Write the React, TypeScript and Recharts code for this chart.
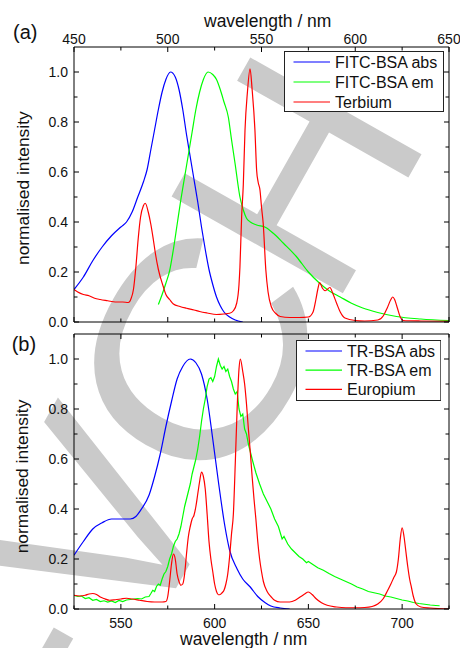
import React from 'react'
import { LineChart, Line, XAxis, YAxis, Legend } from 'recharts'

const FONT = "'Liberation Sans', Arial, Helvetica, sans-serif"

// ---- panel (a): FITC-BSA / terbium ----
const fitcAbsNm = [450, 455, 460, 465, 470, 475, 478, 481, 484, 487, 489, 491, 493, 495, 497, 499, 501.5, 504, 506, 508, 510, 512, 514, 516, 518, 520, 522, 524, 526, 528, 530, 533, 536, 540]
const fitcAbsVal = [0.13, 0.18, 0.245, 0.3, 0.345, 0.38, 0.4, 0.44, 0.5, 0.56, 0.61, 0.69, 0.77, 0.85, 0.92, 0.97, 1.0, 0.98, 0.93, 0.85, 0.75, 0.66, 0.57, 0.48, 0.38, 0.29, 0.21, 0.15, 0.1, 0.065, 0.04, 0.02, 0.008, 0.0]

const fitcEmNm = [495, 497, 499, 501, 503, 505, 507, 509, 511, 513, 515, 517, 519, 521.5, 524, 526, 528, 530, 532.3, 534, 535.9, 538.5, 540.3, 542, 544, 547.4, 552, 556.3, 561.7, 568.8, 575, 581, 586, 592, 598, 604, 612, 622, 635, 650]
const fitcEmVal = [0.07, 0.11, 0.155, 0.205, 0.29, 0.39, 0.49, 0.58, 0.67, 0.76, 0.85, 0.92, 0.97, 1.0, 0.99, 0.97, 0.93, 0.88, 0.82, 0.73, 0.634, 0.5, 0.448, 0.415, 0.4, 0.388, 0.379, 0.355, 0.315, 0.26, 0.2, 0.155, 0.125, 0.1, 0.075, 0.056, 0.038, 0.022, 0.012, 0.006]

const terbiumNm = [450, 452, 455, 458, 461, 464, 468, 472, 476, 479, 480.5, 481.7, 483, 484.2, 485.5, 487, 488, 489.6, 491, 492.3, 493.5, 495, 497.6, 499, 501, 503, 506.5, 510, 514, 517, 521, 526, 530, 533, 535, 536.8, 538, 538.5, 539.4, 540.3, 541.2, 542.5, 543.9, 545, 546.5, 547.4, 548.2, 549.2, 550, 550.9, 552.3, 553.5, 555.3, 557.5, 560, 565, 570, 575, 577.5, 579, 580, 581, 582.5, 584, 586.5, 588, 590, 592, 594.5, 600, 605, 612, 615, 617, 619, 620, 621, 622.5, 624, 625.5, 635, 650]
const terbiumVal = [0.13, 0.12, 0.11, 0.105, 0.095, 0.09, 0.085, 0.08, 0.08, 0.078, 0.095, 0.13, 0.22, 0.33, 0.42, 0.465, 0.475, 0.44, 0.39, 0.33, 0.27, 0.21, 0.142, 0.11, 0.09, 0.072, 0.062, 0.055, 0.048, 0.042, 0.036, 0.03, 0.032, 0.035, 0.045, 0.076, 0.15, 0.22, 0.42, 0.55, 0.767, 0.92, 1.013, 0.93, 0.767, 0.607, 0.56, 0.527, 0.46, 0.395, 0.209, 0.12, 0.06, 0.035, 0.022, 0.018, 0.018, 0.02, 0.04, 0.09, 0.13, 0.158, 0.135, 0.125, 0.138, 0.115, 0.076, 0.04, 0.016, 0.006, 0.004, 0.008, 0.025, 0.055, 0.09, 0.1, 0.09, 0.055, 0.02, 0.006, 0.004, 0.003]

// ---- panel (b): TR-BSA / europium ----
const trAbsNm = [525, 530, 535, 540, 545, 550, 555, 558, 561, 565, 568, 571, 574, 577, 580, 583, 587, 590, 593, 596, 599, 602, 605.5, 608, 612, 615, 619, 623, 627, 630, 635, 640]
const trAbsVal = [0.215, 0.27, 0.32, 0.345, 0.36, 0.36, 0.36, 0.37, 0.4, 0.455, 0.53, 0.62, 0.73, 0.83, 0.92, 0.97, 1.0, 0.985, 0.94, 0.84, 0.68, 0.51, 0.33, 0.235, 0.16, 0.12, 0.088, 0.05, 0.025, 0.012, 0.004, 0.0]

const trEmNm = [525, 527, 529, 531, 533, 535, 537, 539, 541, 543, 545, 547, 549, 551, 553, 555, 557, 559, 561, 563, 565, 566, 567, 568, 569, 570, 571, 572, 573, 574, 575, 576, 577, 578, 579, 580, 581, 582, 583, 584, 585, 586, 587, 588, 589, 590, 591, 592, 593, 594, 595, 596, 597, 598, 599, 600, 601, 602, 603, 604, 605, 606, 607, 608, 609, 610, 611, 612, 613, 614, 615, 616, 617, 618, 620, 622, 624, 626, 628, 630, 632, 634, 636, 637, 639, 641, 643, 645, 647, 649, 650, 652, 655, 658, 661, 664, 667, 670, 673, 676, 679, 682, 685, 688, 691, 694, 697, 700, 703, 706, 709, 712, 715, 718, 720]
const trEmVal = [0.055, 0.05, 0.052, 0.042, 0.045, 0.035, 0.038, 0.03, 0.033, 0.028, 0.032, 0.026, 0.034, 0.03, 0.036, 0.038, 0.04, 0.042, 0.04, 0.048, 0.05, 0.062, 0.075, 0.07, 0.09, 0.1, 0.095, 0.12, 0.14, 0.15, 0.17, 0.2, 0.22, 0.25, 0.27, 0.28, 0.3, 0.33, 0.37, 0.41, 0.44, 0.47, 0.5, 0.54, 0.57, 0.6, 0.64, 0.69, 0.75, 0.8, 0.84, 0.89, 0.92, 0.925, 0.91, 0.93, 0.97, 1.0, 0.975, 0.96, 0.97, 0.95, 0.96, 0.93, 0.91, 0.88, 0.86, 0.87, 0.8, 0.77, 0.78, 0.72, 0.7, 0.66, 0.6, 0.545, 0.5, 0.46, 0.43, 0.4, 0.36, 0.33, 0.28, 0.29, 0.26, 0.24, 0.225, 0.21, 0.2, 0.185, 0.19, 0.18, 0.165, 0.155, 0.142, 0.13, 0.12, 0.11, 0.1, 0.088, 0.08, 0.07, 0.065, 0.06, 0.052, 0.048, 0.042, 0.036, 0.032, 0.026, 0.022, 0.019, 0.016, 0.014, 0.013]

const europiumNm = [525, 528, 531, 533, 535, 537, 539, 541, 544, 547, 550, 553, 556, 560, 564, 568, 572, 574, 575, 576, 577, 578, 579, 580, 581, 582, 583, 584, 585, 586, 587, 588, 589, 590, 591, 592, 593, 594, 595, 596, 597, 598, 599, 600, 601, 602, 603, 604, 605, 606, 607, 608, 609, 610, 611, 612, 613, 613.7, 615, 616, 617, 618, 619, 620, 621, 622, 623, 624, 625, 626, 628, 630, 632, 635, 640, 643, 646, 648, 650, 652, 654, 657, 660, 665, 670, 675, 680, 684, 687, 690, 692, 694, 695.5, 697, 698, 699, 700, 701, 702, 703, 704, 705, 706, 707.5, 710, 715, 725]
const europiumVal = [0.055, 0.052, 0.055, 0.06, 0.062, 0.058, 0.048, 0.042, 0.035, 0.037, 0.04, 0.043, 0.04, 0.035, 0.03, 0.028, 0.028, 0.03, 0.05, 0.11, 0.18, 0.22, 0.2, 0.14, 0.11, 0.095, 0.1, 0.14, 0.22, 0.29, 0.33, 0.36, 0.375, 0.41, 0.46, 0.51, 0.548, 0.53, 0.48, 0.38, 0.27, 0.2, 0.15, 0.1, 0.07, 0.057, 0.058, 0.065, 0.075, 0.1, 0.14, 0.21, 0.3, 0.38, 0.58, 0.8, 0.96, 1.0, 0.95, 0.9, 0.82, 0.72, 0.63, 0.53, 0.44, 0.36, 0.27, 0.2, 0.15, 0.11, 0.07, 0.05, 0.035, 0.028, 0.028, 0.035, 0.05, 0.06, 0.068, 0.058, 0.042, 0.025, 0.015, 0.008, 0.005, 0.005, 0.006, 0.01, 0.02, 0.042, 0.07, 0.1, 0.125, 0.15, 0.2, 0.28, 0.325, 0.29, 0.23, 0.17, 0.12, 0.085, 0.05, 0.02, 0.008, 0.004, 0.0]

// ticks
const topTicks = [450, 475, 500, 525, 550, 575, 600, 625, 650]
const bottomTicks = [525, 550, 575, 600, 625, 650, 675, 700, 725]
const intensityTicks = [0, 0.1, 0.2, 0.3, 0.4, 0.5, 0.6, 0.7, 0.8, 0.9, 1.0]

const toPoints = (nm: number[], v: number[]) => nm.map((x, i) => ({ nm: x, v: v[i] }))

const panelA = [
  { name: 'FITC-BSA abs', color: '#0000ff', data: toPoints(fitcAbsNm, fitcAbsVal), type: 'monotone' },
  { name: 'FITC-BSA em', color: '#00ff00', data: toPoints(fitcEmNm, fitcEmVal), type: 'monotone' },
  { name: 'Terbium', color: '#ff0000', data: toPoints(terbiumNm, terbiumVal), type: 'monotone' },
]
const panelB = [
  { name: 'TR-BSA abs', color: '#0000ff', data: toPoints(trAbsNm, trAbsVal), type: 'monotone' },
  { name: 'TR-BSA em', color: '#00ff00', data: toPoints(trEmNm, trEmVal), type: 'linear' },
  { name: 'Europium', color: '#ff0000', data: toPoints(europiumNm, europiumVal), type: 'monotone' },
]

// inward tick marks, labels only on the outer side that has them
function XTick(props: any) {
  const { x, y, payload, side, labelled } = props
  const value = payload.value as number
  const major = value % 50 === 0
  const len = major ? 5 : 3.5
  const dir = side === 'top' ? 1 : -1
  return (
    <g>
      <line x1={x} x2={x} y1={y} y2={y + dir * len} stroke="#000" strokeWidth={1} />
      {labelled && major && (
        <text x={x} y={side === 'top' ? y - 3.5 : y + 18.5} textAnchor="middle" fontSize={14} fontFamily={FONT} fill="#111">
          {value}
        </text>
      )}
    </g>
  )
}

function YTick(props: any) {
  const { x, y, payload, side, labelled } = props
  const value = payload.value as number
  const major = Math.round(value * 10) % 2 === 0
  const len = major ? 5 : 3.5
  const dir = side === 'left' ? 1 : -1
  return (
    <g>
      <line x1={x} x2={x + dir * len} y1={y} y2={y} stroke="#000" strokeWidth={1} />
      {labelled && major && (
        <text x={x - 6} y={y + 5} textAnchor="end" fontSize={14} fontFamily={FONT} fill="#111">
          {value.toFixed(1)}
        </text>
      )}
    </g>
  )
}

// legend keeps the series order (recharts sorts the payload by name otherwise)
function makeLegend(series: typeof panelA, width: number, rowGap: number) {
  return (props: any) => {
    const payload = props.payload || []
    const items = series.map(s => {
      const hit = payload.find((p: any) => p.value === s.name)
      return { value: s.name, color: hit ? hit.color : s.color }
    })
    return (
      <svg width={width + 1} height={61} style={{ display: 'block' }}>
        <rect x={0.5} y={0.5} width={width} height={60} fill="#fff" stroke="#222" strokeWidth={1} />
        {items.map((e, i) => (
          <g key={e.value}>
            <line x1={9.5} x2={46} y1={11 + i * rowGap} y2={11 + i * rowGap} stroke={e.color} strokeWidth={1.2} />
            <text x={51} y={17 + i * rowGap} fontSize={16} fontFamily={FONT} fill="#111">
              {e.value}
            </text>
          </g>
        ))}
      </svg>
    )
  }
}

const axisLine = { stroke: '#000', strokeWidth: 1 }

function Panel(props: {
  series: typeof panelA
  domain: [number, number]
  ticks: number[]
  height: number
  topAxisH: number
  bottomAxisH: number
  marginTop: number
  labelTop: boolean
  title: { x: number; y: number }
  yTitle: { x: number; y: number }
  letter: { text: string; x: number; y: number }
  legend: { left: number; top: number; width: number; gap: number }
}) {
  const { series, domain, ticks, height, topAxisH, bottomAxisH, marginTop, labelTop, title, yTitle, letter, legend } = props
  const xTitle = { content: () => <text x={title.x} y={title.y} fontSize={17.5} fontFamily={FONT} fill="#111">wavelength / nm</text> }
  return (
    <LineChart width={460} height={height} margin={{ top: marginTop, right: 0, bottom: 0, left: 34 }}>
      <XAxis
        xAxisId="top"
        orientation="top"
        type="number"
        dataKey="nm"
        domain={domain}
        ticks={ticks}
        interval={0}
        allowDataOverflow
        height={topAxisH}
        tickSize={0}
        tickMargin={0}
        tickLine={false}
        axisLine={axisLine}
        tick={(p: any) => <XTick {...p} side="top" labelled={labelTop} />}
        label={labelTop ? xTitle : undefined}
      />
      <XAxis
        xAxisId="bottom"
        orientation="bottom"
        type="number"
        dataKey="nm"
        domain={domain}
        ticks={ticks}
        interval={0}
        allowDataOverflow
        height={bottomAxisH}
        tickSize={0}
        tickMargin={0}
        tickLine={false}
        axisLine={axisLine}
        tick={(p: any) => <XTick {...p} side="bottom" labelled={!labelTop} />}
        label={!labelTop ? xTitle : undefined}
      />
      <YAxis
        yAxisId="left"
        type="number"
        domain={[0, 1.1]}
        ticks={intensityTicks}
        interval={0}
        allowDataOverflow
        width={40}
        tickSize={0}
        tickMargin={0}
        tickLine={false}
        axisLine={axisLine}
        tick={(p: any) => <YTick {...p} side="left" labelled />}
        label={{
          content: () => (
            <text
              x={yTitle.x}
              y={yTitle.y}
              transform={`rotate(-90 ${yTitle.x} ${yTitle.y})`}
              fontSize={17.4}
              fontFamily={FONT}
              fill="#111"
            >
              normalised intensity
            </text>
          ),
        }}
      />
      <YAxis
        yAxisId="right"
        orientation="right"
        type="number"
        domain={[0, 1.1]}
        ticks={intensityTicks}
        interval={0}
        allowDataOverflow
        width={11}
        tickSize={0}
        tickMargin={0}
        tickLine={false}
        axisLine={axisLine}
        tick={(p: any) => <YTick {...p} side="right" labelled={false} />}
        label={{
          content: () => (
            <text x={letter.x} y={letter.y} fontSize={20} fontFamily={FONT} fill="#111">
              {letter.text}
            </text>
          ),
        }}
      />
      <Legend
        layout="horizontal"
        verticalAlign="middle"
        align="center"
        wrapperStyle={{ left: legend.left, top: legend.top, width: legend.width + 1, height: 61 }}
        content={makeLegend(series, legend.width, legend.gap)}
      />
      {series.map(s => (
        <Line
          key={s.name}
          xAxisId="top"
          yAxisId="left"
          name={s.name}
          data={s.data}
          dataKey="v"
          type={s.type as any}
          stroke={s.color}
          strokeWidth={1.2}
          dot={false}
          activeDot={false}
          isAnimationActive={false}
        />
      ))}
    </LineChart>
  )
}

// grey publisher watermark, rotated; the C is a little rounder than the font's
function Watermark() {
  const common = { fontSize: 286, fontFamily: FONT, fill: '#cacaca' }
  return (
    <svg width={460} height={648} style={{ position: 'absolute', left: 0, top: 0 }}>
      <g transform="translate(229.8 493.3) rotate(-60.5)">
        <text x={0} y={0} textAnchor="end" {...common}>WILEY-V</text>
      </g>
      <g transform="translate(283.1 404.2) rotate(-60.5) scale(1.16 1)">
        <text x={0} y={0} textAnchor="middle" {...common}>C</text>
      </g>
      <g transform="translate(433 134) rotate(-60.5)">
        <text x={0} y={0} textAnchor="end" {...common}>H</text>
      </g>
    </svg>
  )
}

export default function App() {
  return (
    <div style={{ position: 'absolute', left: 0, top: 0, width: 460, height: 648, background: '#fff', overflow: 'hidden' }}>
      <Watermark />
      <div style={{ position: 'absolute', left: 0, top: 0 }}>
        <Panel
          series={panelA}
          domain={[450, 650]}
          ticks={topTicks}
          height={330}
          topAxisH={30}
          bottomAxisH={8}
          marginTop={17}
          labelTop
          title={{ x: 204, y: 27 }}
          yTitle={{ x: 28.7, y: 265 }}
          letter={{ text: '(a)', x: 13, y: 39 }}
          legend={{ left: 284.3, top: 50.7, width: 159, gap: 20 }}
        />
      </div>
      <div style={{ position: 'absolute', left: 0, top: 330 }}>
        <Panel
          series={panelB}
          domain={[525, 725]}
          ticks={bottomTicks}
          height={318}
          topAxisH={4}
          bottomAxisH={39}
          marginTop={0}
          labelTop={false}
          title={{ x: 180, y: 315 }}
          yTitle={{ x: 28.5, y: 223.3 }}
          letter={{ text: '(b)', x: 11.7, y: 20.8 }}
          legend={{ left: 295.7, top: 10, width: 144.3, gap: 19.2 }}
        />
      </div>
    </div>
  )
}
